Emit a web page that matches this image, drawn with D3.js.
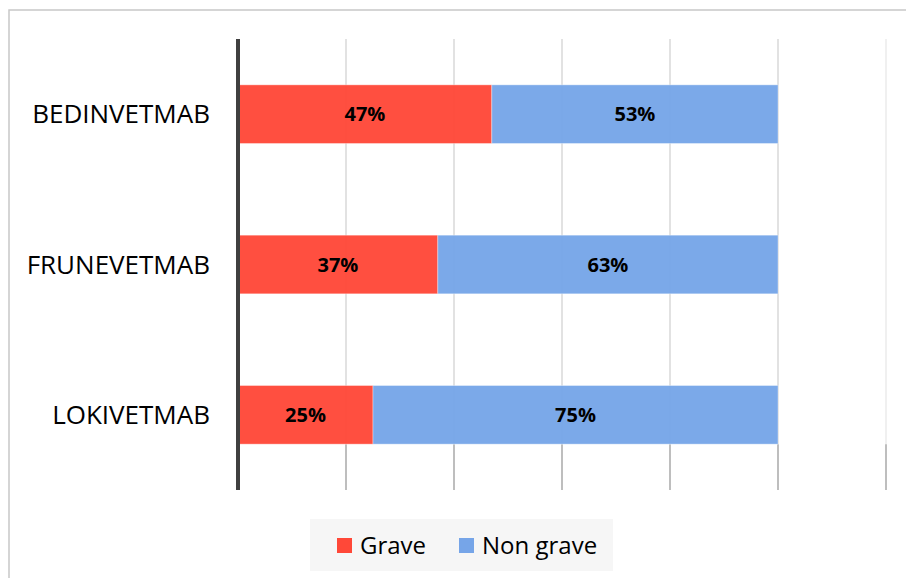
<!DOCTYPE html>
<html><head><meta charset="utf-8">
<script src="https://cdn.jsdelivr.net/npm/d3@7"></script>
<style>body{margin:0;background:#fff}svg{display:block}</style>
</head><body>
<svg id="c" width="906" height="578"></svg>
<script>
const categories = ["BEDINVETMAB", "FRUNEVETMAB", "LOKIVETMAB"];
const grave = [0.47, 0.37, 0.25];
const nonGrave = [0.53, 0.63, 0.75];
const seriesNames = ["Grave", "Non grave"];
const colors = ["#FF4838", "#76A5E8"];
const xTicks = [0, 0.2, 0.4, 0.6, 0.8, 1.0, 1.2];

(function () {
const svg = d3.select("#c");
const font = "'Open Sans', sans-serif";

svg.append("rect").attr("x", 9).attr("y", 10).attr("width", 940).attr("height", 620)
  .attr("fill", "#fff").attr("stroke", "#c8c8c8").attr("stroke-width", 1.5);

const plotTop = 39, plotBottom = 490;
const x = d3.scaleLinear().domain([0, 1.2]).range([238, 886]);
const y = d3.scaleBand().domain(categories).range([plotTop, plotBottom]).paddingInner(0.61).paddingOuter(0.305);

// gridlines
const lastBarBottom = y(categories[categories.length - 1]) + y.bandwidth();
svg.append("g").selectAll("line").data(xTicks.slice(1)).join("line")
  .attr("x1", d => x(d)).attr("x2", d => x(d))
  .attr("y1", plotTop).attr("y2", lastBarBottom)
  .attr("stroke", (d, i) => i === xTicks.length - 2 ? "#ebebeb" : "#d9d9d9").attr("stroke-width", 1.5);
svg.append("g").selectAll("line").data(xTicks.slice(1)).join("line")
  .attr("x1", d => x(d)).attr("x2", d => x(d))
  .attr("y1", lastBarBottom).attr("y2", plotBottom)
  .attr("stroke", "#a8a8a8").attr("stroke-width", 1.5);

const rows = categories.map((c, i) => ({cat: c, vals: [grave[i], nonGrave[i]]}));
const stack = d3.stack().keys([0, 1]).value((d, k) => d.vals[k]);
const stacked = stack(rows);

const g = svg.append("g");
stacked.forEach((layer, si) => {
  g.selectAll(null).data(layer).join("rect")
    .attr("x", d => x(d[0]))
    .attr("y", d => y(d.data.cat))
    .attr("width", d => x(d[1]) - x(d[0]))
    .attr("height", y.bandwidth())
    .attr("fill", colors[si]).attr("fill-opacity", 0.96)
    .attr("stroke", "#ffffff").attr("stroke-opacity", 0.35).attr("stroke-width", 1);
});
stacked.forEach((layer, si) => {
  g.selectAll(null).data(layer).join("text")
    .attr("x", d => (x(d[0]) + x(d[1])) / 2)
    .attr("y", d => y(d.data.cat) + y.bandwidth() / 2)
    .attr("dy", "0.35em")
    .attr("text-anchor", "middle")
    .attr("font-family", font).attr("font-weight", "bold").attr("font-size", 20)
    .attr("fill", "#000")
    .text(d => Math.round(d.data.vals[si] * 100) + "%");
});

// axis line
svg.append("line").attr("x1", x(0)).attr("x2", x(0)).attr("y1", plotTop).attr("y2", plotBottom)
  .attr("stroke", "#404040").attr("stroke-width", 4);

// category labels
svg.append("g").selectAll("text").data(categories).join("text")
  .attr("x", 210).attr("y", d => y(d) + y.bandwidth() / 2).attr("dy", "0.35em")
  .attr("text-anchor", "end").attr("font-family", font).attr("font-size", 26).attr("fill", "#000")
  .text(d => d);

// legend
const lg = svg.append("g");
lg.append("rect").attr("x", 310).attr("y", 519).attr("width", 303).attr("height", 52).attr("fill", "#f6f6f6");
const lx = [337, 459];
seriesNames.forEach((n, i) => {
  lg.append("rect").attr("x", lx[i]).attr("y", 538).attr("width", 15).attr("height", 15).attr("fill", colors[i]);
  lg.append("text").attr("x", lx[i] + 23).attr("y", 545.5).attr("dy", "0.35em")
    .attr("font-family", font).attr("font-size", 24).attr("fill", "#000").text(n);
});
})();
</script>
</body></html>
